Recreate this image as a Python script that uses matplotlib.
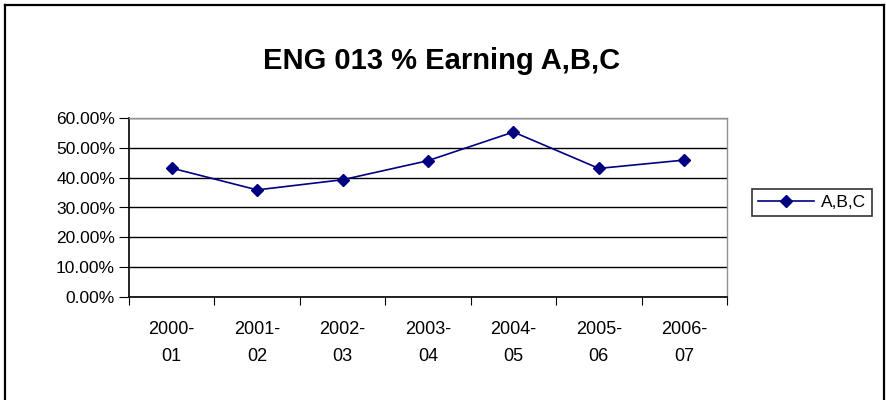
import matplotlib
matplotlib.use("Agg")
import matplotlib.pyplot as plt
from matplotlib.lines import Line2D
from matplotlib.ticker import FuncFormatter, MultipleLocator

plt.rcParams['font.family'] = ['Liberation Sans', 'DejaVu Sans']

categories = ["2000-\n01", "2001-\n02", "2002-\n03", "2003-\n04", "2004-\n05", "2005-\n06", "2006-\n07"]
values = [0.432, 0.359, 0.393, 0.457, 0.553, 0.431, 0.459]
series_name = "A,B,C"
title = "ENG 013 % Earning A,B,C"

W, H = 886, 400
fig = plt.figure(figsize=(W/100, H/100), dpi=100)

def fx(px):
    return px / W

def fy(py):
    return 1 - py / H

# outer chart border (left, top, right)
for xs, ys in [([5, 5], [400, 5]), ([5, 884], [5, 5]), ([884, 884], [5, 400])]:
    fig.lines.append(Line2D([fx(v) for v in xs], [fy(v) for v in ys], transform=fig.transFigure,
                            color='black', linewidth=1.6))

L, R, T, B = 129, 727, 118, 297
ax = fig.add_axes([fx(L), fy(B), (R - L)/W, (B - T)/H])
x = list(range(len(categories)))
ax.plot(x, values, color='#000080', linewidth=1.2, marker='D', markersize=6.5,
        markerfacecolor='#000080', markeredgecolor='#000080', label=series_name, zorder=3)

ax.set_xlim(-0.5, len(categories) - 0.5)
ax.set_ylim(0, 0.6)
ax.yaxis.set_major_locator(MultipleLocator(0.1))
ax.yaxis.set_major_formatter(FuncFormatter(lambda v, p: f"{v*100:.2f}%"))
ax.grid(axis='y', color='black', linewidth=1.0)
ax.set_axisbelow(True)
for s in ['top', 'right']:
    ax.spines[s].set_color('#909090')
    ax.spines[s].set_linewidth(1.0)
ax.spines['left'].set_linewidth(1.2)
ax.spines['bottom'].set_linewidth(1.2)

ax.set_xticks([i - 0.5 for i in range(len(categories) + 1)])
ax.set_xticklabels([])
ax.set_xticks(x, minor=True)
ax.set_xticklabels(categories, minor=True, fontsize=13, linespacing=1.8)
ax.tick_params(axis='x', which='minor', length=0, pad=17)
ax.tick_params(axis='x', which='major', length=6, direction='out')
ax.tick_params(axis='y', length=7, direction='out', labelsize=12.5, pad=3)

fig.text(fx(442), fy(61), title, ha='center', va='center', fontsize=21, fontweight='bold')

leg = fig.legend(loc='center', bbox_to_anchor=(fx(812), fy(202.5)), frameon=True,
                 fancybox=False, edgecolor='black', fontsize=12.5, handlelength=3.2,
                 borderpad=0.35, handletextpad=0.4, borderaxespad=0)
leg.get_frame().set_linewidth(1.2)

fig.savefig("out.png", dpi=100)
